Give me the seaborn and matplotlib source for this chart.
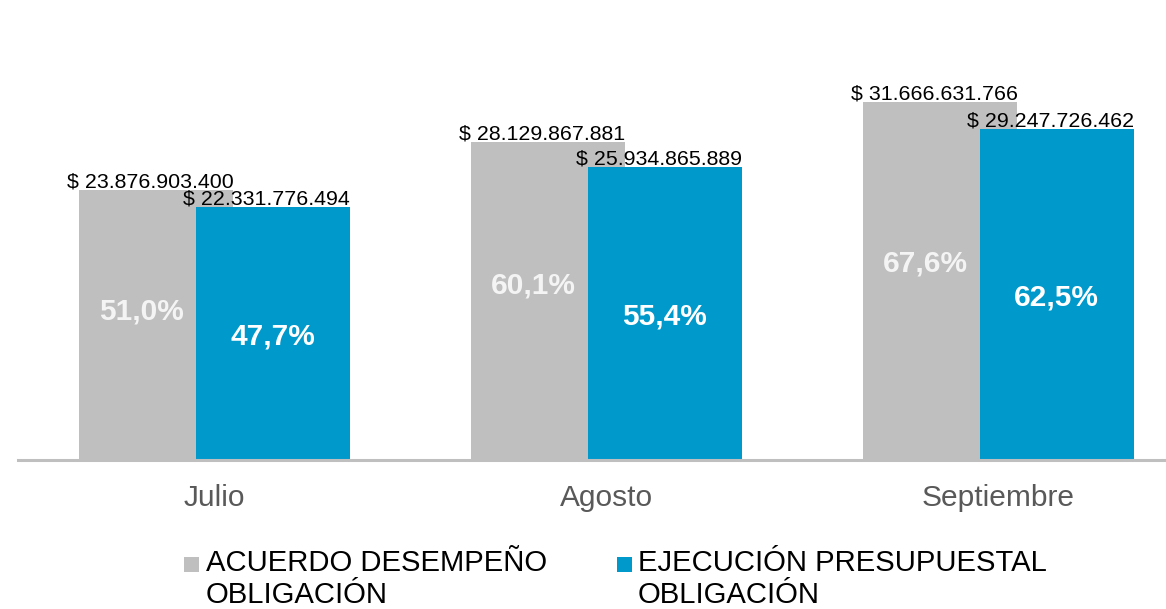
import matplotlib
matplotlib.use("Agg")
import matplotlib.pyplot as plt
from matplotlib.patches import Rectangle
import seaborn as sns
import pandas as pd

# ---- data ----
months = ["Julio", "Agosto", "Septiembre"]
series = ["ACUERDO DESEMPEÑO\nOBLIGACIÓN", "EJECUCIÓN PRESUPUESTAL\nOBLIGACIÓN"]
acuerdo = [23876903400, 28129867881, 31666631766]
ejecucion = [22331776494, 25934865889, 29247726462]
pct_acuerdo = [51.0, 60.1, 67.6]
pct_ejecucion = [47.7, 55.4, 62.5]

GRAY = "#BFBFBF"
BLUE = "#0099CC"

df = pd.DataFrame({
    "mes": months * 2,
    "valor": acuerdo + ejecucion,
    "serie": [series[0]] * 3 + [series[1]] * 3,
})

sns.set_theme(style="white")
plt.rcParams["font.family"] = ["Liberation Sans", "DejaVu Sans"]

W, H = 1166, 609
DPI = 100
fig = plt.figure(figsize=(W / DPI, H / DPI), dpi=DPI)
ax = fig.add_axes([18 / W, 149 / H, 1148 / W, 460 / H])

sns.barplot(data=df, x="mes", y="valor", hue="serie", palette=[GRAY, BLUE],
            width=0.592, dodge=True, saturation=1, legend=False, ax=ax,
            errorbar=None)

px_per_unit = 392.0
bar_w = 154 / px_per_unit
for cont in ax.containers:
    for b in cont:
        cx = b.get_x() + b.get_width() / 2
        b.set_x(cx - bar_w / 2)
        b.set_width(bar_w)
        b.set_linewidth(0)

ax.set_xlim(-(214.5 - 18) / px_per_unit, -(214.5 - 18) / px_per_unit + 1148 / px_per_unit)
ax.set_ylim(0, 460 / 11.31 * 1e9)

def money(v):
    return "$ " + f"{v:,}".replace(",", ".")

def pct(p):
    return f"{p:.1f}%".replace(".", ",")

px = 72 / DPI  # points per pixel
data_sets = [(acuerdo, pct_acuerdo, "#F4F4F4", -15, 0.55),
             (ejecucion, pct_ejecucion, "white", 0, 0.49)]
for cont, (vals, pcts, pcol, pdx, pfrac) in zip(ax.containers, data_sets):
    for b, v, p in zip(cont, vals, pcts):
        cx = b.get_x() + b.get_width() / 2
        ax.annotate(money(v), xy=(cx, v), xytext=(-6 * px, 2.5 * px),
                    textcoords="offset points", ha="center", va="baseline",
                    fontsize=15.4, color="black")
        ax.annotate(pct(p), xy=(cx, v * pfrac), xytext=(pdx * px, 0),
                    textcoords="offset points", ha="center", va="center",
                    fontsize=21.5, fontweight="bold", color=pcol)

for s in ["top", "right", "left"]:
    ax.spines[s].set_visible(False)
ax.spines["bottom"].set_color(GRAY)
ax.spines["bottom"].set_linewidth(2.2)
ax.set_yticks([])
ax.set_xlabel("")
ax.set_ylabel("")
ax.tick_params(axis="x", length=0, pad=17.5, labelsize=21.5, labelcolor="#595959")

# ---- legend ----
def fx(x):
    return x / W

def fy(y):
    return 1 - y / H

legend_items = [(184, 206, GRAY, series[0]), (617, 638, BLUE, series[1])]
for sx, tx, col, lab in legend_items:
    fig.patches.append(Rectangle((fx(sx), fy(572)), 15 / W, 15 / H,
                                 transform=fig.transFigure, facecolor=col,
                                 edgecolor="none", figure=fig))
    fig.text(fx(tx), fy(549), lab, ha="left", va="top", fontsize=21.1,
             color="black", linespacing=1.17)

fig.savefig("out.png", dpi=DPI)
